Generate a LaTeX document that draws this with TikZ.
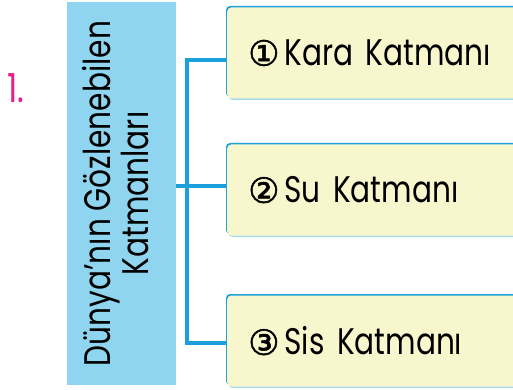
\documentclass[tikz,border=0pt]{standalone}
\usepackage{fontspec}
\setmainfont{Poppins}[FakeStretch=0.8]
\newfontfamily\circfont{DejaVu Sans}[FakeBold=1.5]
\usetikzlibrary{positioning}
\definecolor{titleblue}{RGB}{143, 213, 240}
\definecolor{linkblue}{RGB}{27, 160, 220}
\definecolor{paleblue}{RGB}{170, 220, 240}
\definecolor{boxyellow}{RGB}{248, 246, 204}
\definecolor{numpink}{RGB}{230, 30, 140}

\tikzset{
    titlebox/.style={fill=titleblue, minimum width=109pt, minimum height=383pt, inner sep=0pt},
    layerbox/.style={anchor=west, fill=boxyellow, rounded corners=4pt, minimum width=300pt,
        minimum height=91pt, inner sep=0pt, text width=290pt, align=left,
        preaction={fill=paleblue, rounded corners=4pt, transform canvas={shift={(1.2pt,-1.5pt)}}},
        preaction={fill=linkblue, rounded corners=4pt, transform canvas={shift={(-1.2pt,1.5pt)}}}},
    link/.style={draw=linkblue, line width=4.5pt}
}
\newcommand{\layertext}[2]{\hspace*{16pt}{\circfont\fontsize{35}{35}\selectfont #1}\hspace{5pt}#2}

\begin{document}
\begin{tikzpicture}[x=1pt, y=-1pt, font=\fontsize{37}{40}\selectfont]
            \useasboundingbox (0,0) rectangle (513,390);
            \clip (0,0) rectangle (513,390);

            % Draw the number
            \node[text=numpink, font=\fontsize{40}{40}\selectfont] (num) at (16,88) {1.};

            % Draw the title box
            \node[titlebox] (title) at (121,193.5) {\rotatebox{90}{\begin{tabular}{@{}c@{}}Dünya’nın Gözlenebilen\\[-2pt]Katmanları\end{tabular}}};

            % Draw the layer boxes
            \node[layerbox] (kara) at (227,53) {\layertext{①}{Kara Katmanı}};
            \node[layerbox] (su) at (227,190) {\layertext{②}{Su Katmanı}};
            \node[layerbox] (sis) at (227,341) {\layertext{③}{Sis Katmanı}};

            % Draw the connectors
            \coordinate (fork) at (187,186);
            \draw[link] (title.east |- fork) -- (su.west |- fork);
            \draw[link] (kara.west |- 0,60) -| (fork) |- (sis.west |- 0,343);
        \end{tikzpicture}
\end{document}
